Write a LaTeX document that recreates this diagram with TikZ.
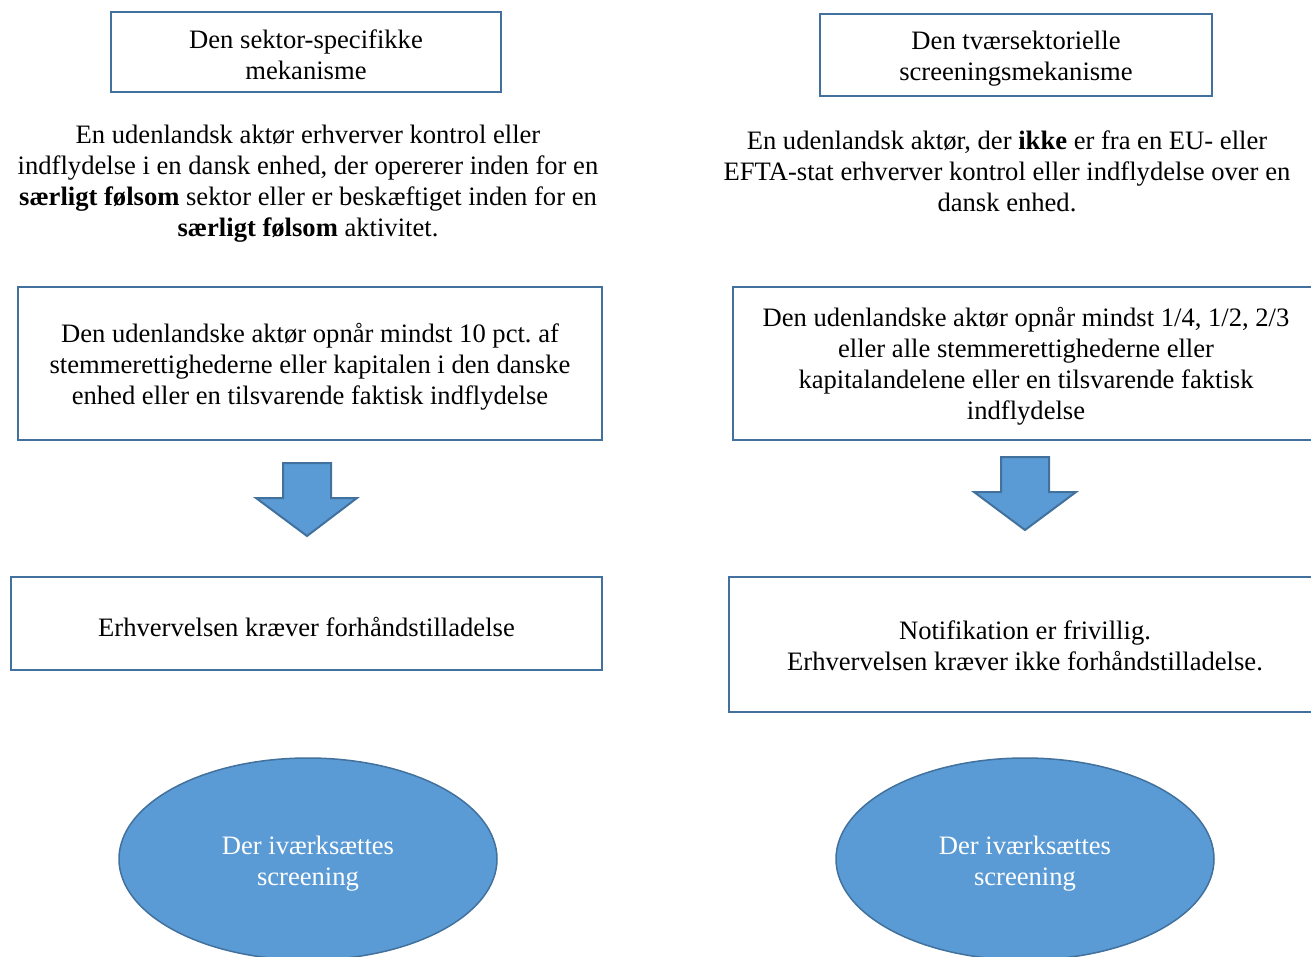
\documentclass[tikz,border=0pt]{standalone}
\usepackage{fontspec}
\setmainfont{Liberation Serif}
\usetikzlibrary{shapes.geometric}
\definecolor{bord}{HTML}{41719C}
\definecolor{fillb}{HTML}{5B9BD5}
\frenchspacing
\begin{document}
\begin{tikzpicture}[x=1pt,y=-1pt,
  every node/.style={font=\fontsize{26.6}{31}\selectfont},
  box/.style={draw=bord, line width=2pt, rectangle, inner sep=0pt},
  txt/.style={align=center, inner sep=0pt},
  oval/.style={ellipse, draw=bord, line width=1.5pt, fill=fillb, inner sep=0pt},
  ovaltxt/.style={txt, text=white},
  blockarrow/.style={draw=bord, line width=2pt, fill=fillb, line join=miter}]
\useasboundingbox (0,0) rectangle (1311,956);
\clip (0,0) rectangle (1311,956);

% left column
\node[box, minimum width=390, minimum height=80] (lt) at (306,52) {};
\node[txt] (ltt) at ([yshift=-3pt]lt.center) {Den sektor-specifikke\\mekanisme};
\node[txt] (lp) at (308,184) {En udenlandsk aktør erhverver kontrol eller\\indflydelse i en dansk enhed, der opererer inden for en\\\textbf{særligt følsom} sektor eller er beskæftiget inden for en\\\textbf{særligt følsom} aktivitet.};
\node[box, minimum width=584, minimum height=153] (lb) at (310,363.5) {};
\node[txt] (lbt) at ([yshift=-3pt]lb.center) {Den udenlandske aktør opnår mindst 10 pct. af\\stemmerettighederne eller kapitalen i den danske\\enhed eller en tilsvarende faktisk indflydelse};
\node[box, minimum width=591, minimum height=93] (lc) at (306.5,623.5) {};
\node[txt] (lct) at ([yshift=-3pt]lc.center) {Erhvervelsen kræver forhåndstilladelse};
\node[oval, minimum width=378, minimum height=202] (le) at (308,859) {};
\node[ovaltxt] (let) at ([yshift=-5pt]le.center) {Der iværksættes\\screening};
\draw[blockarrow] (283,463) -- (331,463) -- (331,498) -- (357,498) -- (307,536) -- (256,498) -- (283,498) -- cycle;

% right column
\node[box, minimum width=392, minimum height=82] (rt) at (1016,55) {};
\node[txt] (rtt) at ([yshift=-4pt]rt.center) {Den tværsektorielle\\screeningsmekanisme};
\node[txt] (rp) at (1007,171) {En udenlandsk aktør, der \textbf{ikke} er fra en EU- eller\\EFTA-stat erhverver kontrol eller indflydelse over en\\dansk enhed.};
\node[box, minimum width=586, minimum height=153] (rb) at (1026,363.5) {};
\node[txt] (rbt) at ([yshift=-3pt]rb.center) {Den udenlandske aktør opnår mindst 1/4, 1/2, 2/3\\eller alle stemmerettighederne eller\\kapitalandelene eller en tilsvarende faktisk\\indflydelse};
\node[box, minimum width=592, minimum height=135] (rc) at (1025,644.5) {};
\node[txt] (rct) at ([yshift=-1pt]rc.center) {Notifikation er frivillig.\\Erhvervelsen kræver ikke forhåndstilladelse.};
\node[oval, minimum width=378, minimum height=202] (re) at (1025,859) {};
\node[ovaltxt] (ret) at ([yshift=-5pt]re.center) {Der iværksættes\\screening};
\draw[blockarrow] (1001,457) -- (1049,457) -- (1049,492) -- (1076,492) -- (1025,530) -- (974,492) -- (1001,492) -- cycle;
\end{tikzpicture}
\end{document}
